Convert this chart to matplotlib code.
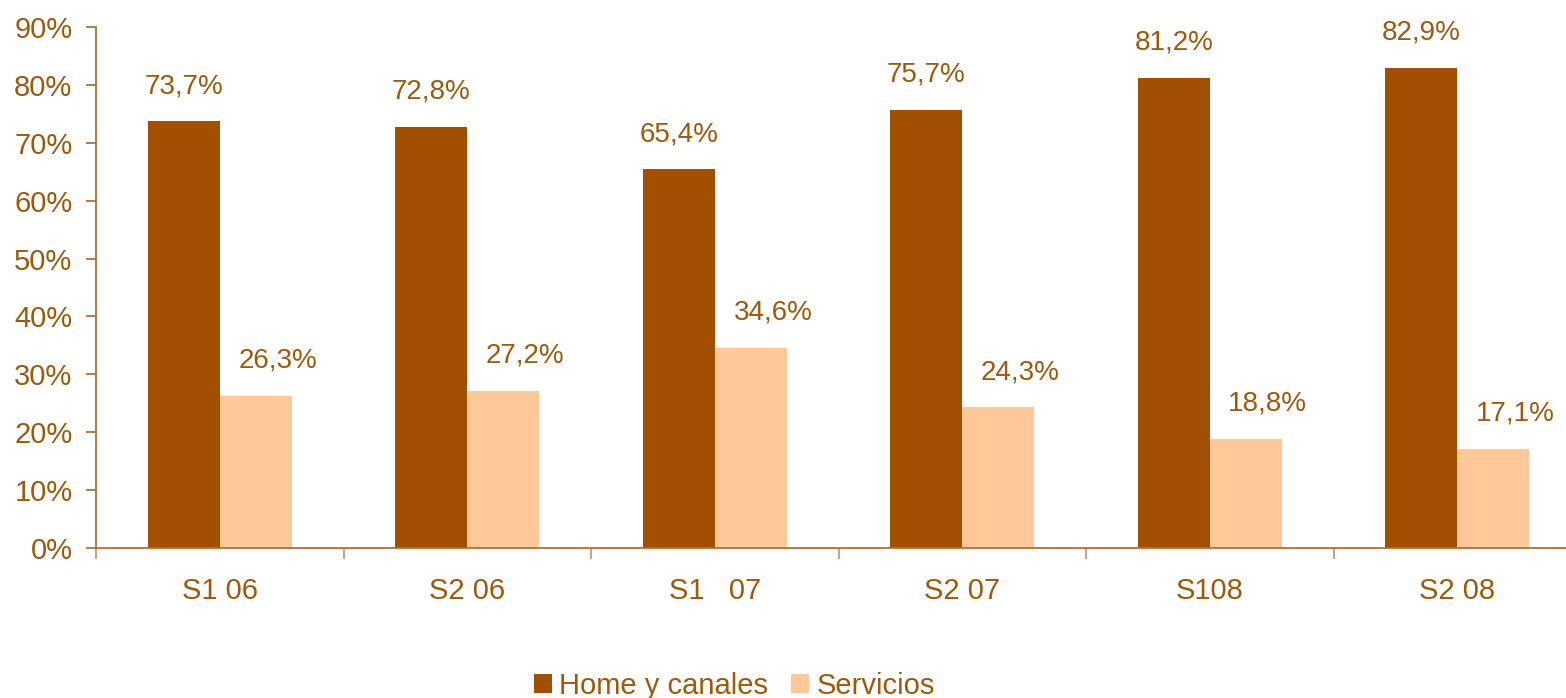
import matplotlib
matplotlib.use('Agg')
import matplotlib.pyplot as plt
import numpy as np

categories = ['S1 06', 'S2 06', 'S1   07', 'S2 07', 'S108', 'S2 08']
home = [73.7, 72.8, 65.4, 75.7, 81.2, 82.9]
servicios = [26.3, 27.2, 34.6, 24.3, 18.8, 17.1]
yticks = [0, 10, 20, 30, 40, 50, 60, 70, 80, 90]

plt.rcParams['font.family'] = ['Liberation Sans', 'DejaVu Sans']

TEXT = '#9C5A0A'
DARK = '#A05000'
LIGHT = '#FFC898'
SPINE = '#AE7236'

W, H = 1566, 698
fig = plt.figure(figsize=(W / 100, H / 100), dpi=100)
fig.patch.set_facecolor('white')

# eje que se sale por la derecha, igual que en la imagen original
ax = fig.add_axes([96 / W, 150 / H, 1485 / W, 521 / H])
x = np.arange(len(categories))
bw = 0.29

ax.bar(x - bw / 2, home, bw, color=DARK, label='Home y canales')
ax.bar(x + bw / 2, servicios, bw, color=LIGHT, label='Servicios')

# etiquetas de valores
for xi, v in zip(x, home):
    ax.annotate(f'{v:.1f}%'.replace('.', ','), (xi - bw / 2, v),
                xytext=(0, 16), textcoords='offset points',
                ha='center', va='bottom', fontsize=20, color=TEXT)
for xi, v in zip(x, servicios):
    ax.annotate(f'{v:.1f}%'.replace('.', ','), (xi + bw / 2, v),
                xytext=(16, 16), textcoords='offset points',
                ha='center', va='bottom', fontsize=20, color=TEXT)

ax.set_xlim(-0.5, 5.5)
ax.set_ylim(0, 90)
ax.set_yticks(yticks)
ax.set_yticklabels([f'{t}%' for t in yticks])
ax.set_xticks(x)
ax.set_xticklabels(categories)
ax.set_xticks(np.arange(len(categories) + 1) - 0.5, minor=True)

for s in ['top', 'right']:
    ax.spines[s].set_visible(False)
for s in ['left', 'bottom']:
    ax.spines[s].set_color(SPINE)
    ax.spines[s].set_linewidth(1.3)

ax.tick_params(axis='y', length=7, width=1.3, color=SPINE, pad=10,
               labelsize=21, labelcolor=TEXT)
ax.tick_params(axis='x', which='major', length=0, pad=21,
               labelsize=21, labelcolor=TEXT)
ax.tick_params(axis='x', which='minor', length=8, width=1.3, color='#C89A70')

leg = fig.legend(loc='lower center', bbox_to_anchor=(0.469, -0.04), ncol=2,
                 frameon=False, fontsize=21, handlelength=0.6, handleheight=0.6,
                 handletextpad=0.25, columnspacing=0.8)
for t in leg.get_texts():
    t.set_color(TEXT)

fig.savefig('out.png', dpi=100)
